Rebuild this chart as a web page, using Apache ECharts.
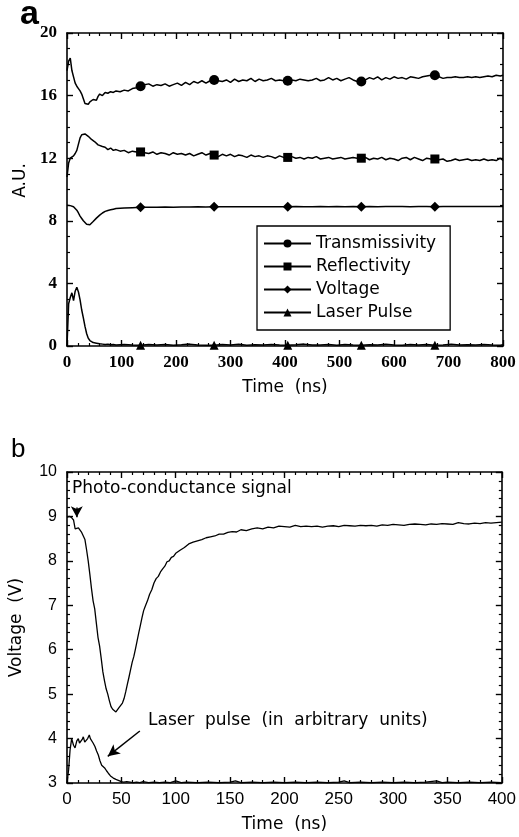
<!DOCTYPE html>
<html>
<head>
<meta charset="utf-8">
<script src="https://cdn.jsdelivr.net/npm/echarts@6/dist/echarts.min.js"></script>
<style>html,body{margin:0;padding:0;background:#fff;}#c{width:519px;height:837px;}</style>
</head>
<body>
<div id="c"></div>
<script>
// ---------- Panel a data ----------
const xTicksA = [0, 100, 200, 300, 400, 500, 600, 700, 800];
const yTicksA = [0, 4, 8, 12, 16, 20];
const legendNames = ['Transmissivity', 'Reflectivity', 'Voltage', 'Laser Pulse'];
const markerTimes = [135, 270, 405, 540, 675];

const transmissivity = [
[0,17.6],[3,18.2],[6,18.4],[9,17.6],[12,17.2],[15,16.8],[18,16.6],[21,16.45],[24,16.3],[27,16.1],[30,15.8],[33,15.5],[36,15.6],[39,15.45],[42,15.6],[45,15.5],[48,15.75],[51,15.85],[54,15.7],[57,15.95],[60,16.1],
[65,16.0],[70,16.2],[75,16.15],[80,16.25],[85,16.2],[90,16.3],
[97.5,16.25],[105,16.35],[112.5,16.3],[120,16.45],[127.5,16.5],[135,16.6],[142.5,16.7],[150,16.75],[157.5,16.6],[165,16.7],[172.5,16.65],[180,16.75],[187.5,16.6],[195,16.7],[202.5,16.8],[210,16.65],[217.5,16.85],[225,16.7],[232.5,16.9],[240,16.8],[247.5,16.95],[255,16.8],[262.5,16.95],[270,17.0],
[277.5,16.95],[285,16.9],[292.5,17.0],[300,16.85],[307.5,17.05],[315,16.9],[322.5,17.0],[330,16.95],[337.5,17.1],[345,16.9],[352.5,17.05],[360,16.95],[367.5,17.0],[375,17.1],[382.5,16.95],[390,17.0],[397.5,16.95],[405,16.95],
[412.5,17.0],[420,16.95],[427.5,17.05],[435,17.0],[442.5,16.95],[450,17.0],[457.5,17.1],[465,16.95],[472.5,17.0],[480,17.15],[487.5,17.0],[495,17.1],[502.5,16.95],[510,17.05],[517.5,17.15],[525,17.0],[532.5,16.9],[540,16.9],
[547.5,17.0],[555,17.15],[562.5,17.05],[570,17.2],[577.5,17.0],[585,17.15],[592.5,17.05],[600,17.2],[607.5,17.1],[615,17.15],[622.5,17.05],[630,17.2],[637.5,17.15],[645,17.1],[652.5,17.2],[660,17.25],[667.5,17.3],[675,17.3],
[682.5,17.2],[690,17.1],[697.5,17.15],[705,17.15],[712.5,17.2],[720,17.15],[727.5,17.15],[735,17.2],[742.5,17.15],[750,17.2],[757.5,17.15],[765,17.2],[772.5,17.25],[780,17.2],[787.5,17.3],[795,17.25],[800,17.3]
];

const reflectivity = [
[0,10.8],[3,11.7],[6,12.0],[9,12.1],[12,12.15],[15,12.3],[18,12.5],[21,12.9],[24,13.3],[27,13.5],[30,13.6],[33,13.55],[36,13.45],[39,13.4],[42,13.3],[45,13.2],[48,13.15],[51,13.05],[54,13.0],[57,12.85],[60,12.9],
[65,12.75],[70,12.7],[75,12.55],[80,12.65],[85,12.5],[90,12.55],
[97.5,12.45],[105,12.5],[112.5,12.35],[120,12.45],[127.5,12.4],[135,12.4],[142.5,12.35],[150,12.3],[157.5,12.4],[165,12.25],[172.5,12.35],[180,12.3],[187.5,12.2],[195,12.35],[202.5,12.25],[210,12.3],[217.5,12.2],[225,12.3],[232.5,12.15],[240,12.25],[247.5,12.35],[255,12.2],[262.5,12.3],[270,12.2],
[277.5,12.1],[285,12.25],[292.5,12.15],[300,12.25],[307.5,12.1],[315,12.2],[322.5,12.15],[330,12.05],[337.5,12.2],[345,12.1],[352.5,12.15],[360,12.05],[367.5,12.15],[375,12.1],[382.5,12.0],[390,12.15],[397.5,12.05],[405,12.05],
[412.5,12.1],[420,12.0],[427.5,12.05],[435,11.95],[442.5,12.05],[450,12.0],[457.5,12.1],[465,11.95],[472.5,12.0],[480,12.05],[487.5,11.95],[495,12.0],[502.5,12.05],[510,11.95],[517.5,12.0],[525,12.05],[532.5,12.0],[540,12.0],
[547.5,12.05],[555,11.9],[562.5,12.0],[570,11.95],[577.5,12.05],[585,11.9],[592.5,12.0],[600,11.95],[607.5,11.85],[615,12.0],[622.5,12.05],[630,11.9],[637.5,12.05],[645,11.95],[652.5,11.85],[660,12.0],[667.5,11.95],[675,11.95],
[682.5,11.9],[690,11.95],[697.5,11.8],[705,11.85],[712.5,11.95],[720,11.85],[727.5,11.9],[735,11.95],[742.5,11.85],[750,11.9],[757.5,11.85],[765,11.95],[772.5,11.85],[780,11.9],[787.5,11.85],[795,12.0],[800,11.85]
];

const voltageA = [
[0,9.0],[3,9.0],[6,8.97],[9,8.95],[12,8.9],[15,8.8],[18,8.68],[21,8.5],[24,8.3],[27,8.15],[30,8.0],[33,7.88],[36,7.78],[39,7.73],[42,7.75],[45,7.85],[48,7.95],[51,8.05],[54,8.17],[57,8.27],[60,8.36],
[65,8.5],[70,8.6],[75,8.66],[80,8.7],[85,8.74],[90,8.78],
[105,8.82],[120,8.84],[135,8.86],[150,8.86],[165,8.87],[180,8.88],[195,8.87],[210,8.88],[225,8.88],[240,8.89],[255,8.88],[270,8.89],[285,8.9],[300,8.89],[315,8.9],[330,8.89],[345,8.9],[360,8.9],[375,8.89],[390,8.9],[405,8.9],
[420,8.91],[435,8.9],[450,8.9],[465,8.91],[480,8.9],[495,8.91],[510,8.9],[525,8.91],[540,8.9],[555,8.91],[570,8.9],[585,8.91],[600,8.92],[615,8.91],[630,8.9],[645,8.91],[660,8.91],[675,8.9],
[690,8.91],[705,8.92],[720,8.91],[735,8.91],[750,8.92],[765,8.91],[780,8.92],[795,8.92],[800,8.92]
];

const laserA = [
[0,0.0],[3,2.7],[6,3.1],[9,3.4],[12,2.9],[15,3.5],[18,3.75],[21,3.45],[24,2.95],[27,2.3],[30,1.8],[33,1.25],[36,0.8],[39,0.5],[42,0.35],[45,0.27],[48,0.22],[51,0.2],[54,0.18],[57,0.15],[60,0.14],
[65,0.12],[70,0.1],[75,0.12],[80,0.08],[85,0.1],[90,0.07],
[105,0.1],[120,0.06],[135,0.05],[150,0.09],[165,0.06],[180,0.1],[195,0.05],[210,0.08],[225,0.12],[240,0.06],[255,0.05],[270,0.05],[285,0.09],[300,0.07],[315,0.11],[330,0.05],[345,0.08],[360,0.06],[375,0.1],[390,0.06],[405,0.05],
[420,0.08],[435,0.12],[450,0.06],[465,0.07],[480,0.09],[495,0.05],[510,0.1],[525,0.06],[540,0.05],[555,0.08],[570,0.06],[585,0.11],[600,0.07],[615,0.05],[630,0.09],[645,0.06],[660,0.1],[675,0.05],
[690,0.07],[705,0.12],[720,0.06],[735,0.08],[750,0.06],[765,0.1],[780,0.07],[795,0.05],[800,0.08]
];

// ---------- Panel b data ----------
const xTicksB = [0, 50, 100, 150, 200, 250, 300, 350, 400];
const yTicksB = [3, 4, 5, 6, 7, 8, 9, 10];

const voltageB = [
[0,8.98],[2,9.0],[4,8.98],[6,8.92],[7.5,8.72],[9,8.7],[10.5,8.74],[12,8.7],[13.5,8.64],[15,8.6],[16.5,8.48],[18,8.25],[19.5,8.0],[21,7.7],[22.5,7.38],[24,7.1],[25.5,6.92],[27,6.6],[28.5,6.28],[30,6.08],
[31.5,5.8],[33,5.5],[34.5,5.3],[36,5.12],[37.5,5.0],[39,4.85],[40.5,4.72],[42,4.66],[43.5,4.62],[45,4.6],[46.5,4.63],[48,4.7],[49.5,4.72],[51,4.8],[52.5,4.9],[54,5.05],[55.5,5.22],[57,5.38],[58.5,5.55],[60,5.72],
[61.5,5.85],[63,6.02],[64.5,6.2],[66,6.38],[67.5,6.55],[69,6.72],[70.5,6.88],[72,6.98],[74,7.1],[76,7.25],[78,7.35],[80,7.5],[82,7.6],[84,7.65],[86,7.75],[88,7.82],[90,7.88],[92,7.98],[94,8.0],[96,8.08],[98,8.1],[100,8.17],
[104,8.24],[108,8.3],[112,8.38],[116,8.42],[120,8.45],[124,8.48],[128,8.52],[132,8.54],[136,8.56],[140,8.6],[144,8.6],[148,8.64],[152,8.66],[156,8.65],[160,8.7],[165,8.68],[170,8.72],[175,8.74],[180,8.72],[185,8.76],[190,8.74],[195,8.78],
[200,8.77],[205,8.76],[210,8.8],[215,8.77],[220,8.78],[225,8.77],[230,8.78],[235,8.76],[240,8.78],[245,8.79],[250,8.77],[255,8.8],[260,8.79],[265,8.78],[270,8.8],[275,8.79],[280,8.8],[285,8.78],[290,8.81],[295,8.8],
[300,8.82],[305,8.81],[310,8.8],[315,8.82],[320,8.83],[325,8.82],[330,8.81],[335,8.83],[340,8.82],[345,8.84],[350,8.83],[355,8.82],[360,8.86],[365,8.84],[370,8.83],[375,8.85],[380,8.84],[385,8.86],[390,8.85],[395,8.86],[400,8.87]
];

const laserB = [
[0,3.0],[1.5,3.3],[2.8,3.74],[4.3,4.0],[6,3.85],[7.4,3.79],[9,3.95],[10.4,4.0],[11.5,3.9],[12.6,3.86],[14,3.98],[15,4.04],[16.3,3.92],[17.5,3.89],[19,4.0],[20.5,4.08],[21.5,4.0],[22.7,3.96],[24,3.9],[25.7,3.82],
[27.2,3.72],[28.8,3.63],[30.3,3.5],[31.9,3.4],[33.4,3.36],[34.9,3.33],[36.5,3.27],[38,3.22],[40,3.16],[42.6,3.11],[45,3.08],[47.2,3.06],[50,3.03],[52,3.02],[55,3.03],[58,3.02],[61,3.01],[64,3.02],[67,3.01],[70,3.03],
[75,3.01],[80,3.02],[85,3.01],[90,3.02],[95,3.01],[100,3.05],[105,3.01],[110,3.02],[120,3.01],[130,3.02],[140,3.01],[150,3.02],[155,3.05],[160,3.01],[170,3.02],[180,3.01],[190,3.02],[200,3.01],[210,3.02],[220,3.01],
[230,3.02],[240,3.01],[250,3.02],[255,3.05],[260,3.01],[270,3.02],[280,3.01],[290,3.02],[300,3.01],[310,3.02],[320,3.01],[330,3.02],[340,3.05],[345,3.01],[350,3.02],[360,3.01],[370,3.02],[380,3.01],[390,3.02],[400,3.01]
];

// ---------- Chart ----------
const chart = echarts.init(document.getElementById('c'), null, {renderer: 'canvas'});
const BLACK = '#000';

function markerSize(size) {
  return function (val) { return markerTimes.indexOf(val[0]) >= 0 ? size : 0; };
}

function xAxisDef(grid, ticks, pos, showLabel, labelFont, name) {
  const interval = ticks[1] - ticks[0];
  return {
    type: 'value', gridIndex: grid, position: pos,
    min: ticks[0], max: ticks[ticks.length - 1], interval: interval,
    axisLine: {show: true, onZero: false, lineStyle: {color: BLACK, width: 1.6}},
    axisTick: {show: true, inside: true, length: 6, lineStyle: {color: BLACK, width: 1.4}},
    minorTick: {show: true, splitNumber: 5, length: 3, lineStyle: {color: BLACK, width: 1.2}},
    splitLine: {show: false},
    axisLabel: Object.assign({show: showLabel, color: BLACK, margin: 8}, labelFont),
    name: name || '', nameLocation: 'middle', nameGap: 33,
    nameTextStyle: {color: BLACK, fontFamily: 'DejaVu Sans', fontSize: 17}
  };
}
function yAxisDef(grid, ticks, pos, showLabel, labelFont, minorSplit) {
  const interval = ticks[1] - ticks[0];
  return {
    type: 'value', gridIndex: grid, position: pos,
    min: ticks[0], max: ticks[ticks.length - 1], interval: interval,
    axisLine: {show: true, onZero: false, lineStyle: {color: BLACK, width: 1.6}},
    axisTick: {show: true, inside: true, length: 6, lineStyle: {color: BLACK, width: 1.4}},
    minorTick: {show: true, splitNumber: minorSplit, length: 3, lineStyle: {color: BLACK, width: 1.2}},
    splitLine: {show: false},
    axisLabel: Object.assign({show: showLabel, color: BLACK, margin: 10}, labelFont)
  };
}

const fontA = {fontFamily: 'Liberation Serif', fontWeight: 'bold', fontSize: 17};
const fontB = {fontFamily: 'Liberation Sans', fontSize: 16};
const fontBx = {fontFamily: 'Liberation Sans', fontSize: 17};

function lineSeries(name, data, xi, yi, symbol, size) {
  return {
    name: name, type: 'line', xAxisIndex: xi, yAxisIndex: yi, data: data,
    symbol: symbol, symbolSize: size ? markerSize(size) : 0, showAllSymbol: true,
    showSymbol: !!size,
    lineStyle: {color: BLACK, width: 1.5}, itemStyle: {color: BLACK},
    emphasis: {disabled: true}, animation: false, clip: false
  };
}

const option = {
  backgroundColor: '#fff',
  animation: false,
  grid: [
    {left: 67, top: 33, width: 436, height: 313},
    {left: 67, top: 472, width: 435, height: 311}
  ],
  xAxis: [
    xAxisDef(0, xTicksA, 'bottom', true, fontA, 'Time  (ns)'),
    xAxisDef(0, xTicksA, 'top', false, fontA),
    xAxisDef(1, xTicksB, 'bottom', true, fontBx, 'Time  (ns)'),
    xAxisDef(1, xTicksB, 'top', false, fontB)
  ],
  yAxis: [
    Object.assign(yAxisDef(0, yTicksA, 'left', true, fontA, 4), {
      name: 'A.U.', nameLocation: 'middle', nameGap: 36,
      nameTextStyle: {color: BLACK, fontFamily: 'DejaVu Sans', fontSize: 17, padding: [0, 0, 0, 18]}
    }),
    yAxisDef(0, yTicksA, 'right', false, fontA, 4),
    Object.assign(yAxisDef(1, yTicksB, 'left', true, fontB, 5), {
      name: 'Voltage  (V)', nameLocation: 'middle', nameGap: 42,
      nameTextStyle: {color: BLACK, fontFamily: 'DejaVu Sans', fontSize: 17}
    }),
    yAxisDef(1, yTicksB, 'right', false, fontB, 5)
  ],
  legend: {
    data: legendNames, orient: 'vertical', left: 257, top: 226,
    itemWidth: 47, itemHeight: 10, itemGap: 6,
    padding: [9, 14, 9, 6],
    backgroundColor: '#fff', borderColor: BLACK, borderWidth: 1.3, borderRadius: 0,
    selectedMode: false,
    textStyle: {color: BLACK, fontFamily: 'DejaVu Sans', fontSize: 17, padding: [0, 0, 0, 0]}
  },
  series: [
    lineSeries('Transmissivity', transmissivity, 0, 0, 'circle', 10),
    lineSeries('Reflectivity', reflectivity, 0, 0, 'rect', 9),
    lineSeries('Voltage', voltageA, 0, 0, 'diamond', 10),
    lineSeries('Laser Pulse', laserA, 0, 0, 'triangle', 9),
    Object.assign(lineSeries('Photo-conductance signal', voltageB, 2, 2, 'none', 0), {
      lineStyle: {color: BLACK, width: 1.3},
      markLine: {
        silent: true, symbol: ['none', 'arrow'], symbolSize: [9, 11], label: {show: false},
        lineStyle: {color: BLACK, width: 1.5, type: 'solid'},
        data: [[{coord: [9, 9.2]}, {coord: [9, 8.98]}]]
      }
    }),
    Object.assign(lineSeries('Laser pulse', laserB, 2, 2, 'none', 0), {
      lineStyle: {color: BLACK, width: 1.3},
      markLine: {
        silent: true, symbol: ['none', 'arrow'], symbolSize: [9, 12], label: {show: false},
        lineStyle: {color: BLACK, width: 1.5, type: 'solid'},
        data: [[{coord: [67, 4.17]}, {coord: [37.5, 3.6]}]]
      }
    })
  ],
  graphic: [
    {type: 'text', left: 20, top: -2, style: {text: 'a', font: 'bold 34px "Liberation Sans"', fill: BLACK}},
    {type: 'text', left: 11, top: 437, style: {text: 'b', font: '26px "Liberation Sans"', fill: BLACK}},
    {type: 'text', left: 72, top: 480, style: {text: 'Photo-conductance signal', font: '17px "DejaVu Sans"', fill: BLACK}},
    {type: 'text', left: 148, top: 712, style: {text: 'Laser  pulse  (in  arbitrary  units)', font: '17px "DejaVu Sans"', fill: BLACK}}
  ]
};
chart.setOption(option);
</script>
</body>
</html>
